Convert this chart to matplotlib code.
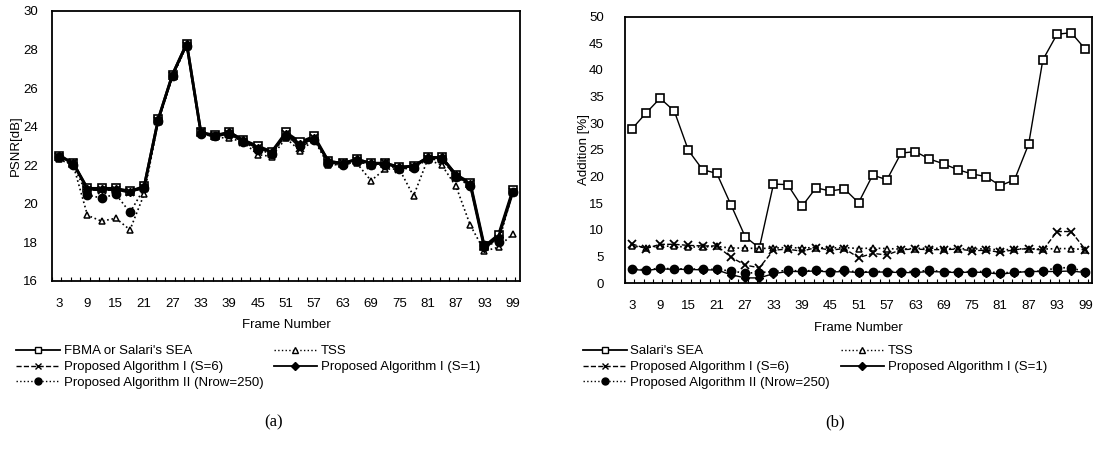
import matplotlib
matplotlib.use('Agg')
import matplotlib.pyplot as plt
from matplotlib.lines import Line2D

plt.rcParams['font.family'] = ['Liberation Sans', 'DejaVu Sans']

# Datos
frames = [3, 6, 9, 12, 15, 18, 21, 24, 27, 30, 33, 36, 39, 42, 45, 48, 51,
          54, 57, 60, 63, 66, 69, 72, 75, 78, 81, 84, 87, 90, 93, 96, 99]
xticks = [3, 9, 15, 21, 27, 33, 39, 45, 51, 57, 63, 69, 75, 81, 87, 93, 99]

# (a) PSNR [dB]
psnr_sea = [22.5, 22.1, 20.8, 20.8, 20.8, 20.65, 20.9, 24.4, 26.7, 28.3, 23.7,
            23.55, 23.7, 23.3, 23.0, 22.7, 23.7, 23.2, 23.5, 22.2, 22.1, 22.3,
            22.1, 22.1, 21.9, 21.95, 22.4, 22.4, 21.5, 21.1, 17.8, 18.4, 20.7]
psnr_tss = [22.3, 22.0, 19.4, 19.1, 19.25, 18.65, 20.5, 24.3, 26.6, 28.2, 23.65,
            23.45, 23.4, 23.2, 22.55, 22.45, 23.4, 22.75, 23.3, 22.0, 22.05, 22.1,
            21.2, 21.8, 21.8, 20.4, 22.3, 22.0, 20.9, 18.9, 17.55, 17.75, 18.45]
psnr_s6 = [22.4, 22.1, 20.7, 20.7, 20.7, 20.6, 20.8, 24.3, 26.6, 28.2, 23.7,
           23.5, 23.6, 23.2, 22.9, 22.6, 23.6, 22.9, 23.4, 22.1, 22.1, 22.2,
           22.0, 22.1, 21.8, 21.9, 22.3, 22.3, 21.4, 21.0, 17.8, 18.2, 20.6]
psnr_s1 = [22.5, 22.1, 20.75, 20.75, 20.75, 20.6, 20.9, 24.4, 26.7, 28.3, 23.7,
           23.5, 23.7, 23.3, 22.9, 22.7, 23.6, 23.1, 23.4, 22.2, 22.1, 22.3,
           22.1, 22.1, 21.9, 21.95, 22.4, 22.4, 21.5, 21.0, 17.7, 18.3, 20.6]
psnr_ii = [22.4, 22.0, 20.45, 20.3, 20.5, 19.55, 20.8, 24.3, 26.6, 28.2, 23.6,
           23.5, 23.6, 23.2, 22.8, 22.6, 23.5, 23.0, 23.3, 22.1, 22.0, 22.2,
           22.0, 22.0, 21.8, 21.85, 22.3, 22.3, 21.4, 20.9, 17.85, 18.0, 20.6]

# (b) Addition [%]
add_sea = [28.9, 31.9, 34.7, 32.3, 24.9, 21.3, 20.6, 14.7, 8.75, 6.6, 18.6,
           18.5, 14.4, 17.9, 17.3, 17.7, 15.1, 20.3, 19.4, 24.4, 24.7, 23.3,
           22.4, 21.3, 20.5, 20.0, 18.3, 19.4, 26.1, 41.9, 46.7, 47.0, 43.9]
add_tss = [7.0, 6.7, 7.0, 6.9, 6.8, 6.8, 6.9, 6.6, 6.6, 6.5, 6.6, 6.7, 6.6,
           6.7, 6.6, 6.7, 6.5, 6.6, 6.5, 6.4, 6.5, 6.6, 6.5, 6.5, 6.4, 6.5,
           6.2, 6.4, 6.5, 6.4, 6.5, 6.5, 6.3]
add_s6 = [7.4, 6.5, 7.3, 7.3, 7.1, 7.0, 7.0, 4.9, 3.4, 2.9, 6.2, 6.4, 6.0,
          6.7, 6.2, 6.5, 4.8, 5.6, 5.3, 6.3, 6.4, 6.3, 6.3, 6.4, 6.1, 6.2,
          5.8, 6.3, 6.5, 6.2, 9.7, 9.7, 6.3]
add_s1 = [2.6, 2.4, 2.7, 2.6, 2.6, 2.5, 2.5, 1.6, 1.0, 1.0, 1.8, 2.2, 2.2,
          2.3, 2.1, 2.2, 2.0, 2.1, 2.1, 2.0, 2.0, 2.2, 2.1, 2.0, 2.1, 2.0,
          1.7, 2.0, 2.2, 2.2, 2.2, 2.3, 2.0]
add_ii = [2.7, 2.5, 2.8, 2.7, 2.7, 2.6, 2.6, 2.3, 1.9, 2.0, 2.2, 2.4, 2.3,
          2.4, 2.2, 2.4, 2.1, 2.2, 2.2, 2.2, 2.2, 2.4, 2.2, 2.1, 2.2, 2.2,
          1.9, 2.1, 2.2, 2.3, 2.9, 2.9, 2.1]

fig = plt.figure(figsize=(10.93, 4.51), dpi=100)
ax1 = fig.add_axes([0.0476, 0.377, 0.428, 0.599])
ax2 = fig.add_axes([0.5715, 0.372, 0.428, 0.591])


def draw(ax, sea, tss, s6, s1, ii, lw):
    ax.plot(frames, sea, '-', color='black', lw=lw, marker='s', ms=6,
            mfc='white', mec='black', mew=1.2)
    ax.plot(frames, tss, ':', color='black', lw=1.2, marker='^', ms=5,
            mfc='white', mec='black', mew=1.1)
    ax.plot(frames, s6, '--', color='black', lw=1.0, marker='x', ms=6, mew=1.3)
    ax.plot(frames, s1, '-', color='black', lw=lw, marker='D', ms=4.5)
    ax.plot(frames, ii, ':', color='black', lw=1.2, marker='o', ms=6)
    ax.set_xlim(1.5, 100.5)
    ax.set_xticks(xticks)
    ax.set_xticks([1.5 + 2 * k for k in range(50)], minor=True)
    ax.tick_params(axis='x', which='major', length=0, pad=12, labelsize=9.5)
    ax.tick_params(axis='x', which='minor', direction='in', length=3, width=0.8)
    ax.tick_params(axis='y', length=0, labelsize=9.5)
    for s in ax.spines.values():
        s.set_linewidth(1.3)
    ax.set_xlabel('Frame Number', fontsize=9.5, labelpad=7)


# (a)
draw(ax1, psnr_sea, psnr_tss, psnr_s6, psnr_s1, psnr_ii, 2.0)
ax1.set_ylim(16, 30)
ax1.set_yticks([16, 18, 20, 22, 24, 26, 28, 30])
ax1.tick_params(axis='y', pad=10)
ax1.set_ylabel('PSNR[dB]', fontsize=9.5)
ax1.yaxis.set_label_coords(-0.064, 0.5)

# (b)
draw(ax2, add_sea, add_tss, add_s6, add_s1, add_ii, 1.0)
ax2.set_ylim(0, 50)
ax2.set_yticks([0, 5, 10, 15, 20, 25, 30, 35, 40, 45, 50])
ax2.tick_params(axis='y', pad=15)
ax2.set_ylabel('Addition [%]', fontsize=9.5)
ax2.yaxis.set_label_coords(-0.074, 0.5)


def handles(first):
    return [
        Line2D([], [], ls='-', color='black', lw=1.3, marker='s', ms=5, mfc='white', label=first),
        Line2D([], [], ls='--', color='black', lw=1.0, marker='x', ms=5, label='Proposed Algorithm I (S=6)'),
        Line2D([], [], ls=':', color='black', lw=1.0, marker='o', ms=5, label='Proposed Algorithm II (Nrow=250)'),
        Line2D([], [], ls=':', color='black', lw=1.0, marker='^', ms=4, mfc='white', label='TSS'),
        Line2D([], [], ls='-', color='black', lw=1.3, marker='D', ms=4, label='Proposed Algorithm I (S=1)'),
    ]


for first, x0 in [("FBMA or Salari's SEA", 16 / 1093), ("Salari's SEA", 583 / 1093)]:
    fig.legend(handles=handles(first), loc='upper left', ncol=2,
               bbox_to_anchor=(x0, 1 - 345 / 451), frameon=False, fontsize=9.5,
               handlelength=3.3, handletextpad=0.3, labelspacing=0.28,
               columnspacing=0.8, borderpad=0, borderaxespad=0)

fig.text(274 / 1093, 1 - 422 / 451, '(a)', family='Liberation Serif',
         fontsize=12, ha='center', va='center')
fig.text(835 / 1093, 1 - 422 / 451, '(b)', family='Liberation Serif',
         fontsize=12, ha='center', va='center')

fig.savefig('out.png', dpi=100)
